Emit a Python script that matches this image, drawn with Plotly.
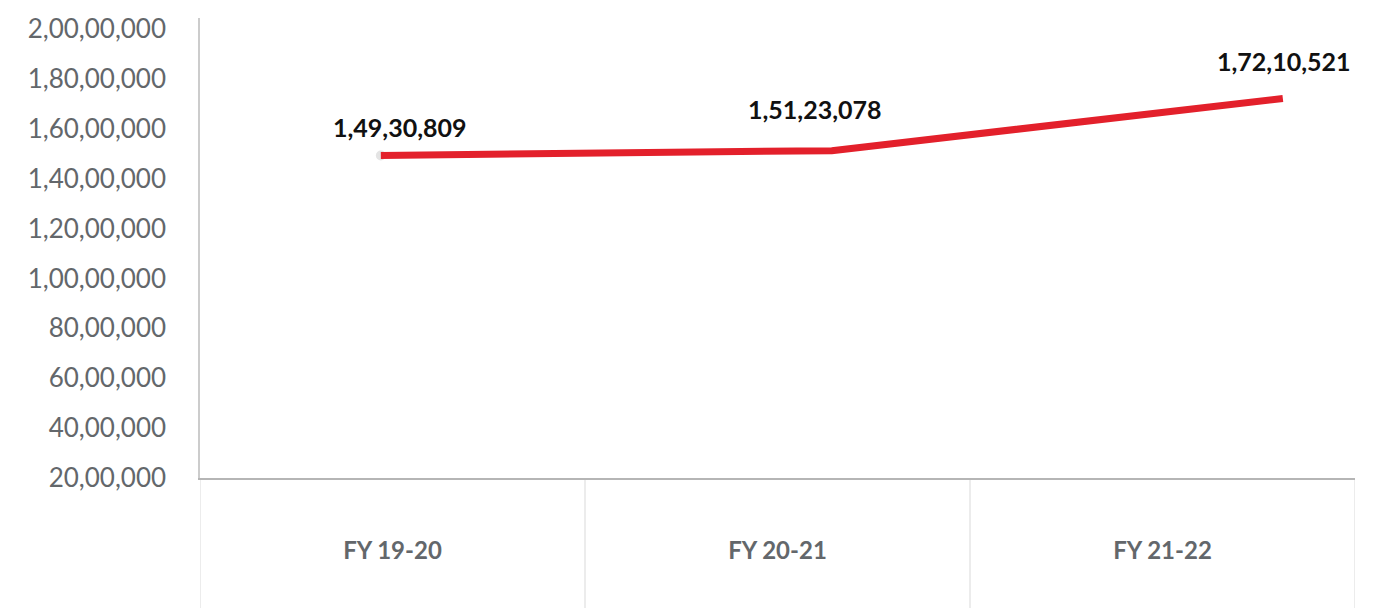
import plotly.graph_objects as go

# Financial years and yearly totals
years = ["FY 19-20", "FY 20-21", "FY 21-22"]
totals = [14930809, 15123078, 17210521]
total_labels = ["1,49,30,809", "1,51,23,078", "1,72,10,521"]

# Y axis ticks in Indian digit grouping
y_tickvals = [2000000, 4000000, 6000000, 8000000, 10000000,
              12000000, 14000000, 16000000, 18000000, 20000000]
y_ticktext = ["20,00,000", "40,00,000", "60,00,000", "80,00,000", "1,00,00,000",
              "1,20,00,000", "1,40,00,000", "1,60,00,000", "1,80,00,000", "2,00,00,000"]

RED = "#e3202b"
GREY_TXT = "#63676b"
FONT = "Lato"

fig = go.Figure()

# faint start marker under the line
fig.add_trace(go.Scatter(
    x=years[:1], y=totals[:1], xaxis="x2", yaxis="y",
    mode="markers", marker=dict(color="#e4e4e4", size=10),
    hoverinfo="skip", showlegend=False,
))

fig.add_trace(go.Scatter(
    x=years, y=totals, xaxis="x2", yaxis="y",
    mode="lines", line=dict(color=RED, width=7),
    showlegend=False,
))

# value labels above each point
label_shift = [(19, 28), (-17, 42), (1, 38)]
for yr, val, txt, (dx, dy) in zip(years, totals, total_labels, label_shift):
    fig.add_annotation(
        x=yr, y=val, xref="x2", yref="y", text=txt, showarrow=False,
        xshift=dx, yshift=dy,
        font=dict(family=FONT, size=25, color="#111111", weight="bold"),
    )

# cell borders for the category row beneath the plot
for b in [-0.5, 0.5, 1.5, 2.5]:
    fig.add_shape(
        type="line", xref="x", yref="paper", x0=b, x1=b, y0=0, y1=-0.3,
        line=dict(color="#e6e6e6", width=1.5), layer="below",
    )

fig.update_layout(
    width=1376, height=608,
    margin=dict(l=200, r=21, t=15, b=130),
    paper_bgcolor="white", plot_bgcolor="white",
    font=dict(family=FONT),
    xaxis=dict(
        type="category", categoryarray=years, range=[-0.5, 2.5],
        showgrid=False, zeroline=False,
        showline=True, linecolor="#b5b5b5", linewidth=1.5,
        ticks="", ticklabelstandoff=50,
        tickfont=dict(family=FONT, size=24, color=GREY_TXT, weight="bold"),
    ),
    xaxis2=dict(
        type="category", categoryarray=years, overlaying="x",
        range=[-0.401, 2.160], visible=False,
    ),
    yaxis=dict(
        range=[2000000, 20440000],
        tickvals=y_tickvals, ticktext=y_ticktext,
        showgrid=False, zeroline=False,
        showline=True, linecolor="#cccccc", linewidth=1.5,
        ticks="", ticklabelstandoff=27,
        tickfont=dict(family=FONT, size=26, color=GREY_TXT),
    ),
)

fig.write_html("out.html")
